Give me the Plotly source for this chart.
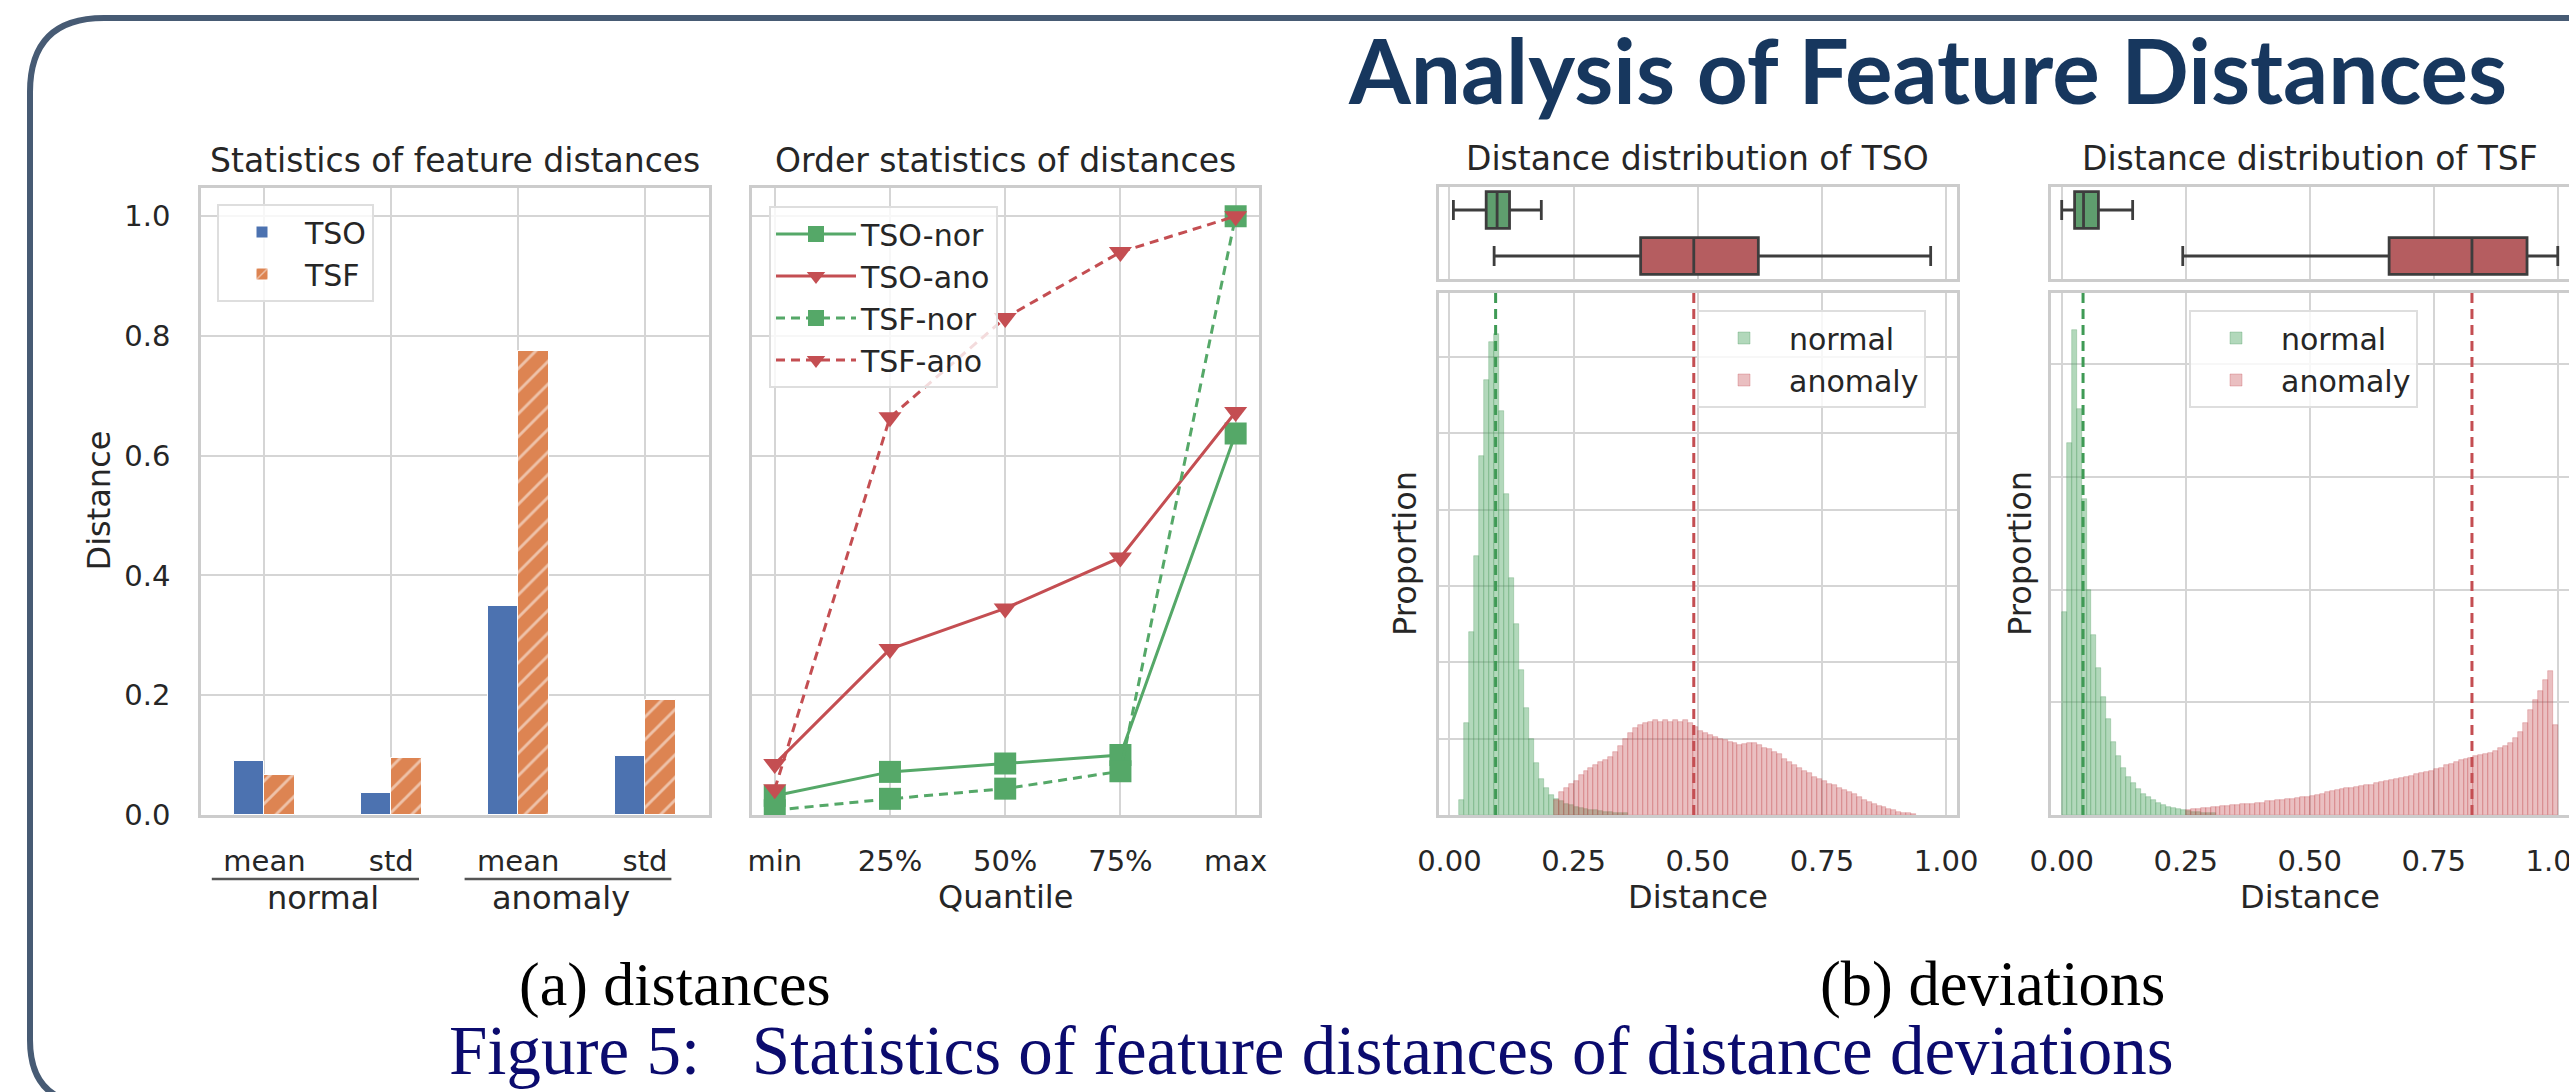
import numpy as np
import plotly.graph_objects as go

W, H = 2569, 1092

# ---------------- data ----------------
stat_groups = ["normal", "anomaly"]
stat_labels = ["mean", "std", "mean", "std"]
tso_stats = [0.090, 0.036, 0.349, 0.099]
tsf_stats = [0.067, 0.095, 0.774, 0.192]

quantiles = ["min", "25%", "50%", "75%", "max"]
tso_nor = [0.032, 0.072, 0.086, 0.100, 0.637]
tso_ano = [0.085, 0.277, 0.345, 0.430, 0.673]
tsf_nor = [0.008, 0.027, 0.044, 0.073, 1.000]
tsf_ano = [0.043, 0.664, 0.830, 0.940, 1.000]

bin_width = 0.01
tso_normal_start = 0.02
tso_normal_hist = [
    0.002, 0.012, 0.024, 0.034, 0.047, 0.057, 0.062, 0.063, 0.053, 0.042,
    0.031, 0.025, 0.019, 0.014, 0.010, 0.0068, 0.0047, 0.0035, 0.0026, 0.0021,
    0.0018, 0.0015, 0.0013, 0.0011, 0.0009, 0.0008, 0.0007, 0.0006, 0.0005, 0.0004,
    0.0004, 0.0003, 0.0003, 0.0002]
tso_anomaly_start = 0.21
tso_anomaly_hist = [
    0.0020, 0.0030, 0.0035, 0.0040, 0.0045, 0.0052, 0.0058, 0.0062, 0.0066, 0.0070,
    0.0072, 0.0076, 0.0082, 0.0090, 0.0100, 0.0108, 0.0114, 0.0118, 0.0120, 0.0122,
    0.0124, 0.0122, 0.0125, 0.0122, 0.0124, 0.0122, 0.0125, 0.0120, 0.0115, 0.0110,
    0.0108, 0.0105, 0.0102, 0.0100, 0.0098, 0.0096, 0.0094, 0.0092, 0.0093, 0.0094,
    0.0095, 0.0092, 0.0088, 0.0086, 0.0082, 0.0080, 0.0074, 0.0070, 0.0066, 0.0062,
    0.0058, 0.0055, 0.0050, 0.0047, 0.0044, 0.0041, 0.0039, 0.0036, 0.0033, 0.0030,
    0.0027, 0.0024, 0.0020, 0.0017, 0.0014, 0.0012, 0.0010, 0.0008, 0.0006, 0.0004,
    0.0003, 0.0002, 0.0001]
tsf_normal_start = 0.00
tsf_normal_hist = [
    0.018, 0.033, 0.043, 0.036, 0.028, 0.020, 0.016, 0.013, 0.0105, 0.0085,
    0.0065, 0.0052, 0.0042, 0.0034, 0.0028, 0.0023, 0.0019, 0.0016, 0.0013, 0.0011,
    0.0009, 0.0007, 0.0006, 0.0005, 0.0004, 0.00035, 0.0003, 0.00025, 0.0002, 0.0002,
    0.00015]
tsf_anomaly_start = 0.25
tsf_anomaly_hist = [
    0.0004, 0.0005, 0.0005, 0.0006, 0.0006, 0.0007, 0.0007, 0.0008, 0.0008, 0.0009,
    0.0009, 0.0010, 0.0010, 0.0010, 0.0011, 0.0011, 0.0012, 0.0012, 0.0013, 0.0013,
    0.0014, 0.0014, 0.0015, 0.0016, 0.0016, 0.0017, 0.0018, 0.0019, 0.0020, 0.0021,
    0.0022, 0.0023, 0.0024, 0.0024, 0.0025, 0.0026, 0.0027, 0.0027, 0.0028, 0.0029,
    0.0030, 0.0031, 0.0032, 0.0033, 0.0034, 0.0035, 0.0036, 0.0037, 0.0038, 0.0039,
    0.0041, 0.0042, 0.0044, 0.0045, 0.0047, 0.0049, 0.0050, 0.0051, 0.0052, 0.0053,
    0.0054, 0.0055, 0.0057, 0.0059, 0.0061, 0.0064, 0.0068, 0.0074, 0.0082, 0.0093,
    0.0102, 0.0110, 0.0120, 0.0128, 0.0080]

# box statistics: [lowerfence, q1, median, q3, upperfence]
tso_box_normal = [0.008, 0.074, 0.096, 0.121, 0.185]
tso_box_anomaly = [0.090, 0.385, 0.492, 0.622, 0.969]
tsf_box_normal = [0.000, 0.026, 0.044, 0.074, 0.143]
tsf_box_anomaly = [0.244, 0.660, 0.827, 0.938, 1.000]

tso_means = [0.093, 0.492]   # normal, anomaly
tsf_means = [0.043, 0.827]

dist_ticks = [0.0, 0.25, 0.5, 0.75, 1.0]

# ---------------- style ----------------
FONT = "DejaVu Sans"
TXT = "#262626"
GRID = "#d5d5d5"
EDGE = "#cccccc"
BLUE, ORANGE = "#4c72b0", "#dd8452"
GREEN, RED = "#55a868", "#c44e52"
TICK_SIZE, LABEL_SIZE, TITLE_SIZE, LEG_SIZE = 29, 32, 33, 30


def xdom(a, b):
    return [a / W, b / W]


def ydom(top, bottom):
    return [1 - bottom / H, 1 - top / H]


def px(x):
    return x / W


def py(y):
    return 1 - y / H


fig = go.Figure()

# ---- (a) bar chart ----
xpos = list(range(len(stat_labels)))
fig.add_trace(go.Bar(x=xpos, y=tso_stats, name="TSO", width=0.24, offset=-0.24,
                     marker=dict(color=BLUE, line=dict(color="white", width=1)),
                     xaxis="x", yaxis="y", legend="legend"))
fig.add_trace(go.Bar(x=xpos, y=tsf_stats, name="TSF", width=0.24, offset=0.0,
                     marker=dict(color=ORANGE, line=dict(color="white", width=1),
                                 pattern=dict(shape="/", fgcolor="white", bgcolor=ORANGE,
                                              fillmode="overlay", size=16, solidity=0.18)),
                     xaxis="x", yaxis="y", legend="legend"))

# ---- (a) order statistics ----
qpos = list(range(len(quantiles)))
line_specs = [("TSO-nor", tso_nor, GREEN, "solid", "square", 22),
              ("TSO-ano", tso_ano, RED, "solid", "triangle-down", 20),
              ("TSF-nor", tsf_nor, GREEN, "9px,6px", "square", 22),
              ("TSF-ano", tsf_ano, RED, "9px,6px", "triangle-down", 20)]
for name, vals, col, dash, sym, msize in line_specs:
    fig.add_trace(go.Scatter(x=qpos, y=vals, name=name, mode="lines+markers",
                             line=dict(color=col, width=3, dash=dash),
                             marker=dict(symbol=sym, size=msize, color=col),
                             xaxis="x2", yaxis="y2", legend="legend2"))


# ---- (b) distributions ----
def bins(start, vals):
    return np.round(start + bin_width * np.arange(len(vals)), 4)


def add_box(stats, cat, fill, xa, ya):
    fig.add_trace(go.Box(y=[cat], lowerfence=[stats[0]], q1=[stats[1]], median=[stats[2]],
                         q3=[stats[3]], upperfence=[stats[4]], orientation="h",
                         fillcolor=fill, line=dict(color="#3d3d3d", width=2.8),
                         width=0.8, whiskerwidth=0.55, boxpoints=False,
                         showlegend=False, xaxis=xa, yaxis=ya, hoverinfo="skip"))


GREEN_BOX, RED_BOX = "#5f9e6e", "#b55d60"
panels = [
    ("x3", "y3", "x4", "y4", "legend3", tso_normal_start, tso_normal_hist,
     tso_anomaly_start, tso_anomaly_hist, tso_box_normal, tso_box_anomaly, tso_means),
    ("x5", "y5", "x6", "y6", "legend4", tsf_normal_start, tsf_normal_hist,
     tsf_anomaly_start, tsf_anomaly_hist, tsf_box_normal, tsf_box_anomaly, tsf_means),
]
for bx, by, hx, hy, leg, ns, nh, as_, ah, bn, ba, means in panels:
    add_box(bn, "normal", GREEN_BOX, bx, by)
    add_box(ba, "anomaly", RED_BOX, bx, by)
    fig.add_trace(go.Bar(x=bins(ns, nh), y=nh, width=bin_width, offset=0, name="normal",
                         marker=dict(color="rgba(85,168,104,0.45)",
                                     line=dict(color="rgba(70,150,90,0.5)", width=0.6)),
                         xaxis=hx, yaxis=hy, legend=leg))
    fig.add_trace(go.Bar(x=bins(as_, ah), y=ah, width=bin_width, offset=0, name="anomaly",
                         marker=dict(color="rgba(196,78,82,0.36)",
                                     line=dict(color="rgba(196,78,82,0.5)", width=0.6)),
                         xaxis=hx, yaxis=hy, legend=leg))
    for m, col in zip(means, ["#3f9a55", RED]):
        fig.add_shape(type="line", x0=m, x1=m, y0=0, y1=1, xref=hx, yref=hy + " domain",
                      line=dict(color=col, width=3, dash="10px,6px"), layer="above")

# ---------------- axes ----------------
tickfont = dict(family=FONT, size=TICK_SIZE, color=TXT)
common = dict(showgrid=True, gridcolor=GRID, gridwidth=2, zeroline=False, showline=True,
              linecolor=EDGE, linewidth=2.5, mirror=True, tickfont=tickfont)
xticks = dict(ticks="outside", ticklen=18, tickcolor="rgba(0,0,0,0)")
nticks = dict(ticks="")

layout_axes = dict(
    xaxis=dict(domain=xdom(201, 708.5), anchor="y", range=[-0.5, 3.5], tickmode="array",
               tickvals=xpos, ticktext=stat_labels, **xticks, **common),
    yaxis=dict(domain=ydom(188, 815), anchor="x", range=[0, 1.047], tickmode="array",
               tickvals=[0, 0.2, 0.4, 0.6, 0.8, 1.0], tickformat=".1f",
               ticks="outside", ticklen=22, tickcolor="rgba(0,0,0,0)", **common),
    xaxis2=dict(domain=xdom(751.7, 1258.7), anchor="y2", range=[-0.2, 4.2], tickmode="array",
                tickvals=qpos, ticktext=quantiles, **xticks, **common),
    yaxis2=dict(domain=ydom(188, 815), anchor="x2", range=[0, 1.047], tickmode="array",
                tickvals=[0, 0.2, 0.4, 0.6, 0.8, 1.0], showticklabels=False, **nticks, **common),
    xaxis3=dict(domain=xdom(1439, 1956.5), anchor="y3", range=[-0.021, 1.021], tickmode="array",
                tickvals=dist_ticks, showticklabels=False, **nticks, **common),
    yaxis3=dict(domain=ydom(187, 279), anchor="x3", type="category",
                categoryorder="array", categoryarray=["normal", "anomaly"],
                range=[1.5, -0.5], showticklabels=False, **nticks,
                **{k: v for k, v in common.items() if k != "showgrid"}, showgrid=False),
    xaxis4=dict(domain=xdom(1439, 1956.5), anchor="y4", range=[-0.021, 1.021], tickmode="array",
                tickvals=dist_ticks, tickformat=".2f", **xticks, **common),
    yaxis4=dict(domain=ydom(293, 815), anchor="x4", range=[0, 0.0684], dtick=0.01,
                showticklabels=False, **nticks, **common),
    xaxis5=dict(domain=xdom(2051, 2568.5), anchor="y5", range=[-0.0216, 1.0216], tickmode="array",
                tickvals=dist_ticks, showticklabels=False, **nticks, **common),
    yaxis5=dict(domain=ydom(187, 279), anchor="x5", type="category",
                categoryorder="array", categoryarray=["normal", "anomaly"],
                range=[1.5, -0.5], showticklabels=False, **nticks,
                **{k: v for k, v in common.items() if k != "showgrid"}, showgrid=False),
    xaxis6=dict(domain=xdom(2051, 2568.5), anchor="y6", range=[-0.0216, 1.0216], tickmode="array",
                tickvals=dist_ticks, tickformat=".2f", ticklabeloverflow="allow",
                **xticks, **common),
    yaxis6=dict(domain=ydom(293, 815), anchor="x6", range=[0, 0.0463], dtick=0.01,
                showticklabels=False, **nticks, **common),
)


# ---------------- legends ----------------
def legend(x, y, iw):
    return dict(x=px(x), y=py(y), xanchor="left", yanchor="top", xref="paper", yref="paper",
                bgcolor="rgba(255,255,255,0.8)", bordercolor="#dedede", borderwidth=2,
                font=dict(family=FONT, size=LEG_SIZE, color=TXT), itemwidth=iw,
                tracegroupgap=0)


# ---------------- annotations ----------------
def ann(text, x, y, size, color=TXT, family=FONT, angle=0, bold=False, yanchor="middle"):
    return dict(text=(f"<b>{text}</b>" if bold else text), x=px(x), y=py(y), xref="paper",
                yref="paper", showarrow=False, xanchor="center", yanchor=yanchor,
                textangle=angle, font=dict(family=family, size=size, color=color))


annotations = [
    ann("Statistics of feature distances", 454.7, 160, TITLE_SIZE),
    ann("Order statistics of distances", 1005.2, 160, TITLE_SIZE),
    ann("Distance distribution of TSO", 1697.7, 158, TITLE_SIZE),
    ann("Distance distribution of TSF", 2309.7, 158, TITLE_SIZE),
    ann("Distance", 98.5, 501, LABEL_SIZE, angle=-90),
    ann(stat_groups[0], 323, 898, LABEL_SIZE),
    ann(stat_groups[1], 561, 898, LABEL_SIZE),
    ann("Quantile", 1005.2, 897, LABEL_SIZE),
    ann("Distance", 1697.7, 897, LABEL_SIZE),
    ann("Distance", 2309.7, 897, LABEL_SIZE),
    ann("Proportion", 1405, 554, LABEL_SIZE, angle=-90),
    ann("Proportion", 2020, 554, LABEL_SIZE, angle=-90),
    ann("(a) distances", 675, 984, 62, color="#000000", family="Liberation Serif"),
    ann("(b) deviations", 1992, 984, 62.5, color="#000000", family="Liberation Serif"),
    ann("Figure 5:\u00a0\u00a0\u00a0Statistics of feature distances of distance deviations",
        1311.5, 1091, 69, color="#0b0b6e", family="Liberation Serif", yanchor="bottom"),
    ann("Analysis of Feature Distances", 1927, 69, 89, color="#17375e", family="Lato",
        bold=True),
]

# group underlines under the bar chart
for x0, x1 in [(211.8, 419), (464.6, 671.4)]:
    fig.add_shape(type="line", xref="paper", yref="paper", x0=px(x0), x1=px(x1),
                  y0=py(879), y1=py(879), line=dict(color="#555555", width=2.7))

# rounded frame
R1, R2 = 74, 64
L, T, B = 30, 18, 1104
path = (f"M {px(W + 20)},{py(T)} L {px(L + R1)},{py(T)} "
        f"Q {px(L)},{py(T)} {px(L)},{py(T + R1)} "
        f"L {px(L)},{py(B - R2)} Q {px(L)},{py(B)} {px(L + R2)},{py(B)} "
        f"L {px(W + 20)},{py(B)}")
fig.add_shape(type="path", path=path, xref="paper", yref="paper",
              line=dict(color="#475b74", width=6), layer="above")

fig.update_layout(
    width=W, height=H, margin=dict(l=0, r=0, t=0, b=0, autoexpand=False),
    paper_bgcolor="white", plot_bgcolor="white",
    barmode="overlay", boxmode="overlay", bargap=0,
    annotations=annotations,
    legend=legend(217, 204, 76),
    legend2=legend(769, 206, 80),
    legend3=legend(1697, 310, 80),
    legend4=legend(2189, 310, 80),
    **layout_axes,
)

fig.write_html("out.html", config={"displayModeBar": False},
               post_script="document.body.style.margin='0';"
                           "document.body.style.overflow='hidden';")
